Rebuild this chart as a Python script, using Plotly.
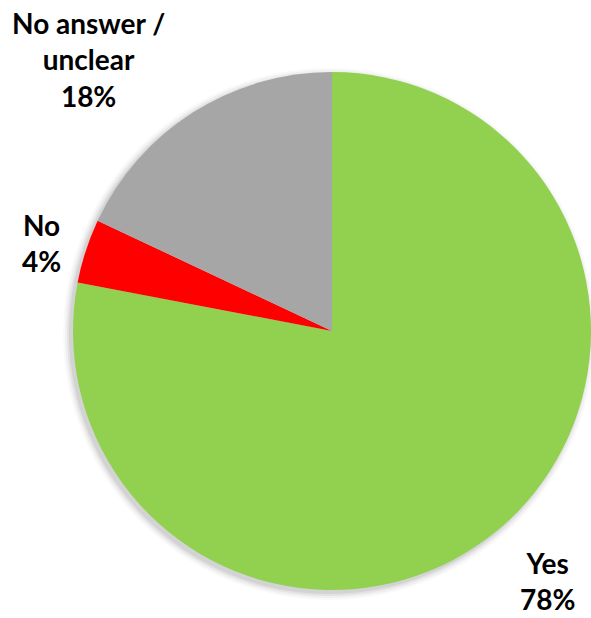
import plotly.graph_objects as go

labels = ["Yes", "No", "No answer / unclear"]
values = [78, 4, 18]
colors = ["#92D050", "#FF0000", "#A6A6A6"]
label_texts = ["Yes<br>78%", "No<br>4%", "No answer /<br>unclear<br>18%"]

W, H = 591, 618
fig = go.Figure()
fig.add_trace(go.Pie(
    labels=labels, values=values, sort=False, direction="clockwise", rotation=0,
    marker=dict(colors=colors, line=dict(width=0)),
    textinfo="none", hoverinfo="label+percent", showlegend=False,
    domain=dict(x=[73 / W, 1.0], y=[1 - 590 / H, 1 - 72 / H]),
))

# soft shadow behind the pie
cx, cy, r = 332, 331, 259
for k, op in [(7, 0.025), (5, 0.035), (3, 0.05), (1, 0.07)]:
    ox, oy = -3, 3
    fig.add_shape(type="circle", xref="paper", yref="paper", layer="below",
                  x0=(cx + ox - r - k) / W, x1=(cx + ox + r + k) / W,
                  y0=1 - (cy + oy + r + k) / H, y1=1 - (cy + oy - r - k) / H,
                  fillcolor=f"rgba(0,0,0,{op})", line=dict(width=0))

# label positions (pixel centers)
pos = [(547, 581), (41, 243), (88, 60)]
for t, (px, py) in zip(label_texts, pos):
    fig.add_annotation(x=px / W, y=1 - py / H, xref="paper", yref="paper",
                       text="<b>" + t + "</b>", showarrow=False,
                       xanchor="center", yanchor="middle", align="center",
                       font=dict(family="Lato", size=28, color="#000000"))

fig.update_layout(width=W, height=H, margin=dict(l=0, r=0, t=0, b=0),
                  paper_bgcolor="white", plot_bgcolor="white")
fig.write_html("out.html")
